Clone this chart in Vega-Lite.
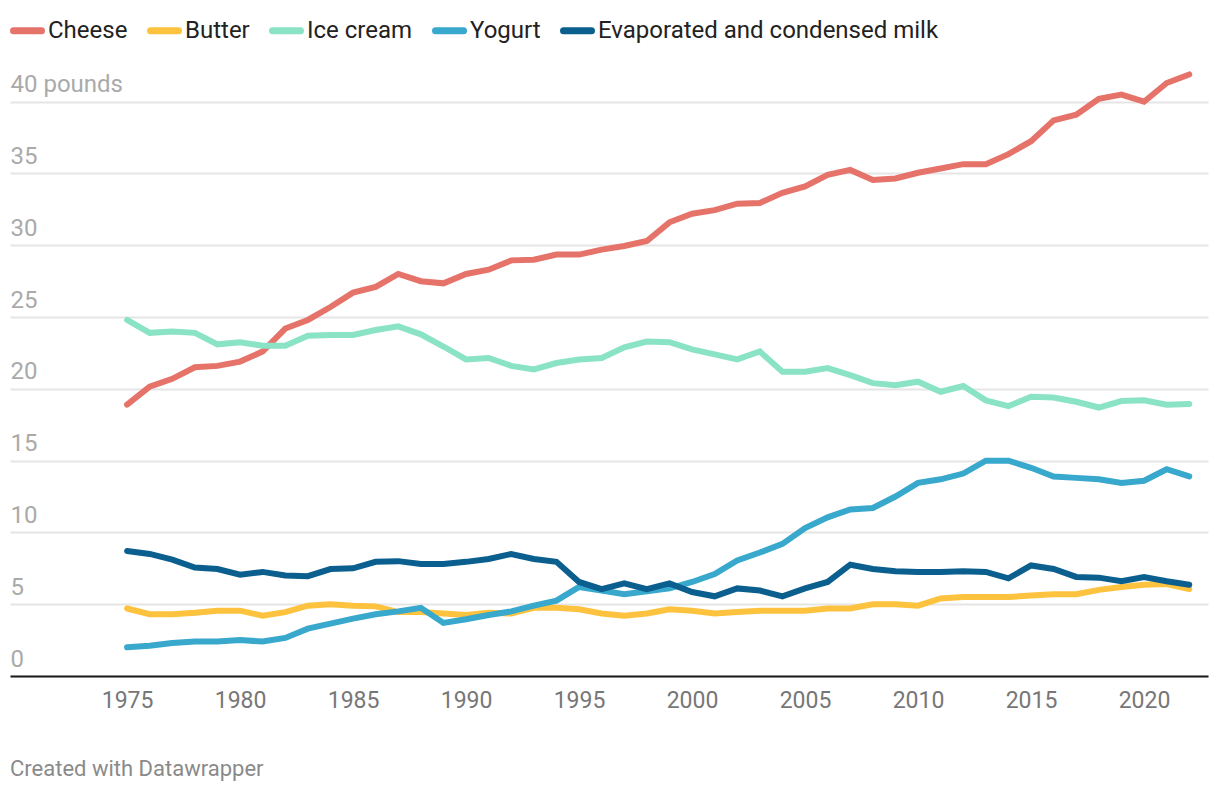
{
  "$schema": "https://vega.github.io/schema/vega-lite/v6.json",
  "width": 1198,
  "height": 603,
  "autosize": {"type": "none"},
  "padding": {"left": 10, "top": 73, "right": 12, "bottom": 118},
  "background": "#ffffff",
  "config": {
    "font": "Roboto",
    "view": {"stroke": null},
    "legend": {"labelFont": "Roboto"},
    "axis": {"labelFont": "Roboto"}
  },
  "title": {
    "text": "Created with Datawrapper",
    "orient": "bottom",
    "anchor": "start",
    "frame": "group",
    "offset": 47,
    "fontSize": 22,
    "fontWeight": "normal",
    "color": "#8a8a8a",
    "font": "Roboto"
  },
  "data": {
    "values": [
      {"year": 1975, "Cheese": 18.9, "Butter": 4.7, "Ice cream": 24.8, "Yogurt": 2.0, "Evaporated and condensed milk": 8.7},
      {"year": 1976, "Cheese": 20.15, "Butter": 4.3, "Ice cream": 23.9, "Yogurt": 2.1, "Evaporated and condensed milk": 8.5},
      {"year": 1977, "Cheese": 20.7, "Butter": 4.3, "Ice cream": 24.0, "Yogurt": 2.3, "Evaporated and condensed milk": 8.1},
      {"year": 1978, "Cheese": 21.5, "Butter": 4.4, "Ice cream": 23.9, "Yogurt": 2.4, "Evaporated and condensed milk": 7.55},
      {"year": 1979, "Cheese": 21.6, "Butter": 4.55, "Ice cream": 23.1, "Yogurt": 2.4, "Evaporated and condensed milk": 7.45},
      {"year": 1980, "Cheese": 21.9, "Butter": 4.55, "Ice cream": 23.25, "Yogurt": 2.5, "Evaporated and condensed milk": 7.05},
      {"year": 1981, "Cheese": 22.6, "Butter": 4.2, "Ice cream": 23.0, "Yogurt": 2.4, "Evaporated and condensed milk": 7.25},
      {"year": 1982, "Cheese": 24.2, "Butter": 4.45, "Ice cream": 23.0, "Yogurt": 2.65, "Evaporated and condensed milk": 7.0},
      {"year": 1983, "Cheese": 24.8, "Butter": 4.9, "Ice cream": 23.7, "Yogurt": 3.3, "Evaporated and condensed milk": 6.95},
      {"year": 1984, "Cheese": 25.7, "Butter": 5.0, "Ice cream": 23.75, "Yogurt": 3.65, "Evaporated and condensed milk": 7.45},
      {"year": 1985, "Cheese": 26.7, "Butter": 4.9, "Ice cream": 23.75, "Yogurt": 4.0, "Evaporated and condensed milk": 7.5},
      {"year": 1986, "Cheese": 27.1, "Butter": 4.85, "Ice cream": 24.1, "Yogurt": 4.3, "Evaporated and condensed milk": 7.95},
      {"year": 1987, "Cheese": 28.0, "Butter": 4.45, "Ice cream": 24.35, "Yogurt": 4.5, "Evaporated and condensed milk": 8.0},
      {"year": 1988, "Cheese": 27.5, "Butter": 4.45, "Ice cream": 23.8, "Yogurt": 4.75, "Evaporated and condensed milk": 7.8},
      {"year": 1989, "Cheese": 27.35, "Butter": 4.35, "Ice cream": 22.95, "Yogurt": 3.7, "Evaporated and condensed milk": 7.8},
      {"year": 1990, "Cheese": 28.0, "Butter": 4.25, "Ice cream": 22.05, "Yogurt": 3.95, "Evaporated and condensed milk": 7.95},
      {"year": 1991, "Cheese": 28.3, "Butter": 4.4, "Ice cream": 22.15, "Yogurt": 4.25, "Evaporated and condensed milk": 8.15},
      {"year": 1992, "Cheese": 28.95, "Butter": 4.35, "Ice cream": 21.6, "Yogurt": 4.5, "Evaporated and condensed milk": 8.5},
      {"year": 1993, "Cheese": 29.0, "Butter": 4.75, "Ice cream": 21.35, "Yogurt": 4.9, "Evaporated and condensed milk": 8.15},
      {"year": 1994, "Cheese": 29.35, "Butter": 4.75, "Ice cream": 21.8, "Yogurt": 5.25, "Evaporated and condensed milk": 7.95},
      {"year": 1995, "Cheese": 29.35, "Butter": 4.65, "Ice cream": 22.05, "Yogurt": 6.2, "Evaporated and condensed milk": 6.55},
      {"year": 1996, "Cheese": 29.7, "Butter": 4.35, "Ice cream": 22.15, "Yogurt": 5.95, "Evaporated and condensed milk": 6.05},
      {"year": 1997, "Cheese": 29.95, "Butter": 4.2, "Ice cream": 22.9, "Yogurt": 5.7, "Evaporated and condensed milk": 6.45},
      {"year": 1998, "Cheese": 30.3, "Butter": 4.35, "Ice cream": 23.3, "Yogurt": 5.9, "Evaporated and condensed milk": 6.05},
      {"year": 1999, "Cheese": 31.6, "Butter": 4.65, "Ice cream": 23.25, "Yogurt": 6.1, "Evaporated and condensed milk": 6.45},
      {"year": 2000, "Cheese": 32.2, "Butter": 4.55, "Ice cream": 22.75, "Yogurt": 6.55, "Evaporated and condensed milk": 5.85},
      {"year": 2001, "Cheese": 32.45, "Butter": 4.35, "Ice cream": 22.4, "Yogurt": 7.1, "Evaporated and condensed milk": 5.55},
      {"year": 2002, "Cheese": 32.9, "Butter": 4.45, "Ice cream": 22.05, "Yogurt": 8.05, "Evaporated and condensed milk": 6.1},
      {"year": 2003, "Cheese": 32.95, "Butter": 4.55, "Ice cream": 22.6, "Yogurt": 8.6, "Evaporated and condensed milk": 5.95},
      {"year": 2004, "Cheese": 33.65, "Butter": 4.55, "Ice cream": 21.2, "Yogurt": 9.2, "Evaporated and condensed milk": 5.55},
      {"year": 2005, "Cheese": 34.1, "Butter": 4.55, "Ice cream": 21.2, "Yogurt": 10.3, "Evaporated and condensed milk": 6.1},
      {"year": 2006, "Cheese": 34.9, "Butter": 4.7, "Ice cream": 21.45, "Yogurt": 11.05, "Evaporated and condensed milk": 6.55},
      {"year": 2007, "Cheese": 35.25, "Butter": 4.7, "Ice cream": 20.95, "Yogurt": 11.6, "Evaporated and condensed milk": 7.75},
      {"year": 2008, "Cheese": 34.55, "Butter": 5.0, "Ice cream": 20.4, "Yogurt": 11.7, "Evaporated and condensed milk": 7.45},
      {"year": 2009, "Cheese": 34.65, "Butter": 5.0, "Ice cream": 20.25, "Yogurt": 12.5, "Evaporated and condensed milk": 7.3},
      {"year": 2010, "Cheese": 35.05, "Butter": 4.9, "Ice cream": 20.5, "Yogurt": 13.45, "Evaporated and condensed milk": 7.25},
      {"year": 2011, "Cheese": 35.35, "Butter": 5.4, "Ice cream": 19.8, "Yogurt": 13.7, "Evaporated and condensed milk": 7.25},
      {"year": 2012, "Cheese": 35.65, "Butter": 5.5, "Ice cream": 20.2, "Yogurt": 14.1, "Evaporated and condensed milk": 7.3},
      {"year": 2013, "Cheese": 35.65, "Butter": 5.5, "Ice cream": 19.2, "Yogurt": 15.0, "Evaporated and condensed milk": 7.25},
      {"year": 2014, "Cheese": 36.35, "Butter": 5.5, "Ice cream": 18.8, "Yogurt": 15.0, "Evaporated and condensed milk": 6.8},
      {"year": 2015, "Cheese": 37.25, "Butter": 5.6, "Ice cream": 19.45, "Yogurt": 14.5, "Evaporated and condensed milk": 7.7},
      {"year": 2016, "Cheese": 38.7, "Butter": 5.7, "Ice cream": 19.4, "Yogurt": 13.9, "Evaporated and condensed milk": 7.45},
      {"year": 2017, "Cheese": 39.1, "Butter": 5.7, "Ice cream": 19.1, "Yogurt": 13.8, "Evaporated and condensed milk": 6.9},
      {"year": 2018, "Cheese": 40.2, "Butter": 6.0, "Ice cream": 18.7, "Yogurt": 13.7, "Evaporated and condensed milk": 6.85},
      {"year": 2019, "Cheese": 40.5, "Butter": 6.2, "Ice cream": 19.15, "Yogurt": 13.45, "Evaporated and condensed milk": 6.6},
      {"year": 2020, "Cheese": 40.0, "Butter": 6.35, "Ice cream": 19.2, "Yogurt": 13.6, "Evaporated and condensed milk": 6.9},
      {"year": 2021, "Cheese": 41.3, "Butter": 6.4, "Ice cream": 18.9, "Yogurt": 14.4, "Evaporated and condensed milk": 6.6},
      {"year": 2022, "Cheese": 41.9, "Butter": 6.05, "Ice cream": 18.95, "Yogurt": 13.9, "Evaporated and condensed milk": 6.35}
    ]
  },
  "transform": [
    {"fold": ["Cheese", "Butter", "Ice cream", "Yogurt", "Evaporated and condensed milk"], "as": ["series", "value"]}
  ],
  "mark": {"type": "line", "strokeWidth": 6, "strokeCap": "round", "strokeJoin": "miter", "interpolate": "linear"},
  "encoding": {
    "x": {
      "field": "year",
      "type": "quantitative",
      "scale": {"domain": [1969.82, 2022.83], "nice": false, "zero": false},
      "axis": {
        "title": null,
        "values": [1975, 1980, 1985, 1990, 1995, 2000, 2005, 2010, 2015, 2020],
        "format": "d",
        "grid": false,
        "ticks": false,
        "domain": true,
        "domainColor": "#1a1a1a",
        "domainWidth": 2,
        "labelPadding": 13,
        "labelFontSize": 23,
        "labelColor": "#777777",
        "labelFlush": false,
        "labelOverlap": false,
        "zindex": 1
      }
    },
    "y": {
      "field": "value",
      "type": "quantitative",
      "scale": {"domain": [0, 42], "nice": false, "zero": true},
      "axis": {
        "title": null,
        "values": [0, 5, 10, 15, 20, 25, 30, 35, 40],
        "grid": true,
        "gridColor": "#e5e5e5",
        "gridWidth": 2,
        "domain": false,
        "ticks": false,
        "labelAlign": "left",
        "labelBaseline": "alphabetic",
        "labelPadding": 0,
        "labelOffset": -10,
        "labelFontSize": 24,
        "labelColor": "#aaaaaa",
        "labelOverlap": false,
        "labelFlush": false,
        "labelExpr": "datum.value == 40 ? '40 pounds' : datum.label"
      }
    },
    "color": {
      "field": "series",
      "type": "nominal",
      "scale": {
        "domain": ["Cheese", "Butter", "Ice cream", "Yogurt", "Evaporated and condensed milk"],
        "range": ["#e6736a", "#fdc23e", "#8ae3c5", "#38a8cc", "#0b5f8f"]
      },
      "legend": {
        "title": null,
        "orient": "none",
        "legendX": 0,
        "legendY": -60,
        "direction": "horizontal",
        "symbolType": "stroke",
        "symbolSize": 784,
        "symbolStrokeWidth": 7,
        "labelFontSize": 24,
        "labelColor": "#222222",
        "labelOffset": 3,
        "columnPadding": 8,
        "labelLimit": 500,
        "encode": {"symbols": {"update": {"strokeCap": {"value": "round"}}}}
      }
    }
  }
}
